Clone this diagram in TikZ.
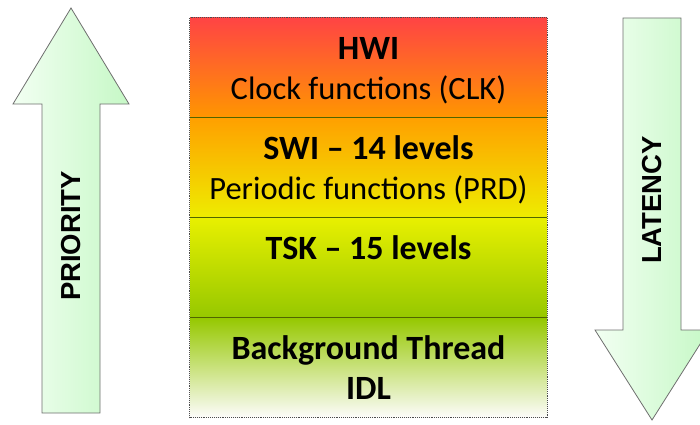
\documentclass[tikz,border=0pt]{standalone}
\usepackage{fontspec}
\setmainfont{Carlito}
\newfontfamily\arialfont{Liberation Sans}
\usetikzlibrary{positioning}

\definecolor{hwitop}{RGB}{255,68,68}
\definecolor{hwibot}{RGB}{255,150,0}
\definecolor{switop}{RGB}{255,160,0}
\definecolor{swibot}{RGB}{238,236,0}
\definecolor{tsktop}{RGB}{232,240,0}
\definecolor{tskbot}{RGB}{150,200,0}
\definecolor{idltop}{RGB}{150,200,0}
\definecolor{idlbot}{RGB}{252,252,250}
\definecolor{arrowlight}{RGB}{242,255,242}
\definecolor{arrowgreen}{RGB}{198,248,198}
\definecolor{arrowline}{RGB}{110,110,110}
\definecolor{divline}{RGB}{80,100,0}

\begin{document}
\begin{tikzpicture}[x=1pt,y=1pt,
    band/.style={rectangle,inner sep=0pt,minimum width=357pt,minimum height=99.5pt},
    title/.style={anchor=base,inner sep=0pt,font=\bfseries\fontsize{34}{40}\selectfont},
    subtitle/.style={anchor=base,inner sep=0pt,font=\fontsize{32.5}{40}\selectfont},
    fatarrow/.style={draw=arrowline,line width=0.8pt,line join=miter,
                     left color=arrowlight,right color=arrowgreen},
    arrowlabel/.style={font=\arialfont\bfseries\fontsize{27.5}{30}\selectfont,rotate=90}]

    \useasboundingbox (0,0) rectangle (700,424);

    % priority arrow
    \draw[fatarrow] (42,11) -- (42,320) -- (13,320) -- (71,416) -- (129,320)
        -- (100,320) -- (100,11) -- cycle;
    \node[arrowlabel] (priority) at (71,188) {PRIORITY};

    % latency arrow
    \draw[fatarrow] (623,406) -- (623,94) -- (595,94) -- (652,4) -- (709,94)
        -- (681,94) -- (681,406) -- cycle;
    \node[arrowlabel] (latency) at (652,224) {LATENCY};

    % thread levels
    \node[band,top color=hwitop,bottom color=hwibot] (hwi) at (368.5,356.25) {};
    \node[band,top color=switop,bottom color=swibot] (swi) [below=0pt of hwi] {};
    \node[band,top color=tsktop,bottom color=tskbot] (tsk) [below=0pt of swi] {};
    \node[band,top color=idltop,bottom color=idlbot] (idl) [below=0pt of tsk] {};

    \node[title] (hwitext) at ([yshift=-42pt]hwi.north) {HWI};
    \node[subtitle] (clk) at ([yshift=-40pt]hwitext.base) {Clock functions (CLK)};
    \node[title] (switext) at ([yshift=-42pt]swi.north) {SWI – 14 levels};
    \node[subtitle] (prd) at ([yshift=-40pt]switext.base) {Periodic functions (PRD)};
    \node[title] (tsktext) at ([yshift=-42pt]tsk.north) {TSK – 15 levels};
    \node[title] (idltext) at ([yshift=-42pt]idl.north) {Background Thread};
    \node[title] (idlname) at ([yshift=-40pt]idltext.base) {IDL};

    \draw[divline,line width=0.8pt] (hwi.south west) -- (hwi.south east);
    \draw[divline,line width=0.8pt] (swi.south west) -- (swi.south east);
    \draw[divline,line width=0.8pt] (tsk.south west) -- (tsk.south east);
    \draw[black!70,densely dotted,line width=0.9pt] (hwi.north west) rectangle (idl.south east);
\end{tikzpicture}
\end{document}
